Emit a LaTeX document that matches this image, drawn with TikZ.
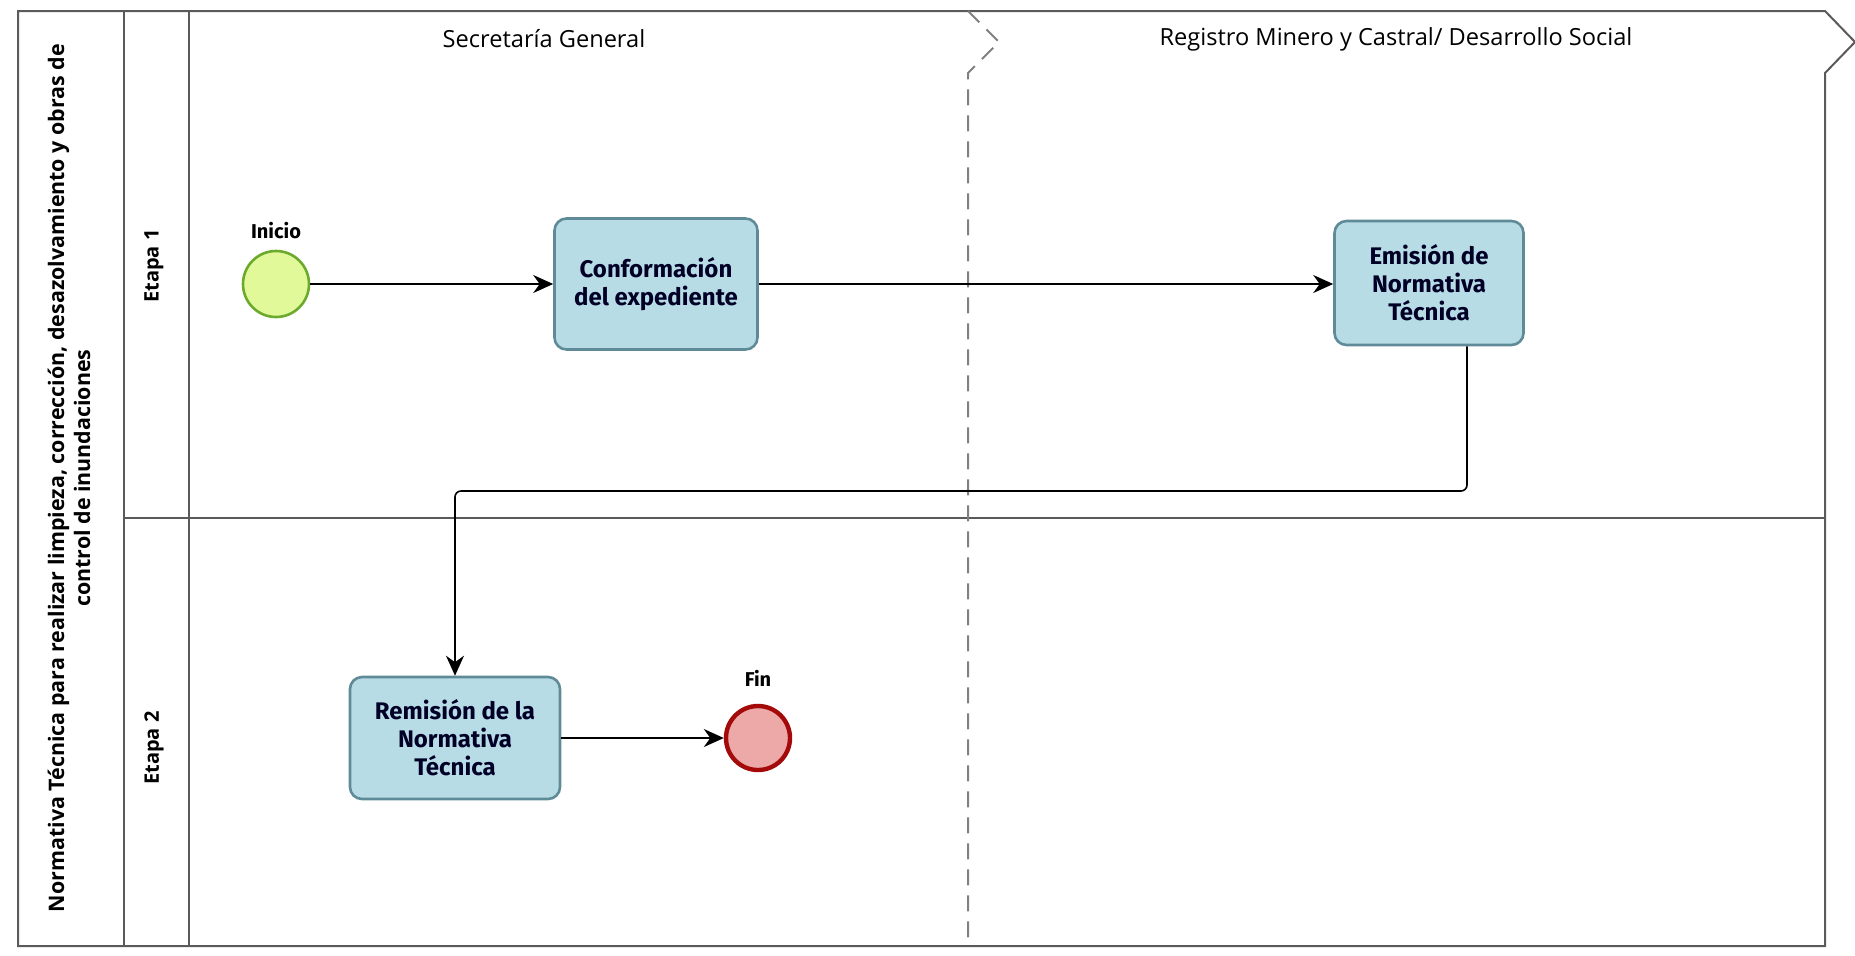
\documentclass[tikz,border=0pt]{standalone}
\usepackage{fontspec}
\setmainfont{Open Sans}
\newfontfamily\tareafont{Fira Sans}
\usepackage{xcolor}
\usetikzlibrary{positioning, calc, arrows.meta}

\definecolor{tareafill}{HTML}{B8DCE6}
\definecolor{tarealine}{HTML}{5F8A98}
\definecolor{iniciofill}{HTML}{E2F99A}
\definecolor{inicioline}{HTML}{6BAA2C}
\definecolor{finfill}{HTML}{EDA8A8}
\definecolor{finline}{HTML}{A50A0A}
\definecolor{carril}{HTML}{5A5A5A}

\begin{document}
\begin{tikzpicture}[x=0.5pt,y=-0.5pt,
        carrilline/.style={draw=carril, line width=1pt},
        cabecera/.style={font=\fontsize{11.8}{14}\selectfont, text=black},
        tarea/.style={rectangle, rounded corners=6pt, draw=tarealine, line width=1.3pt, fill=tareafill, align=center, font=\tareafont\large\bfseries, text=black!85!blue},
        inicioev/.style={circle, draw=inicioline, fill=iniciofill, line width=1.3pt, minimum size=33pt},
        finev/.style={circle, draw=finline, fill=finfill, line width=2.2pt, minimum size=32pt},
        evlabel/.style={font=\tareafont\bfseries},
        flujo/.style={-{Stealth[length=10pt,width=9pt]}, line width=0.8pt}]
        \useasboundingbox (0,0) rectangle (1855,955);
        % pool and lanes
        \draw[carrilline] (18,11) -- (1825,11) -- (1855,42) -- (1825,73) -- (1825,946) -- (18,946) -- cycle;
        \draw[carrilline] (124,11) -- (124,946);
        \draw[carrilline] (189,11) -- (189,946);
        \draw[carrilline] (124,518) -- (1825,518);
        \draw[carrilline, draw=gray, dashed, dash pattern=on 8pt off 5pt] (968,11) -- (999,42) -- (968,73) -- (968,946);
        % headers
        \node[font=\fontsize{10.7}{13}\selectfont\bfseries, rotate=90, align=center] (titulo) at (69,478) {Normativa Técnica para realizar limpieza, corrección, desazolvamiento y obras de\\control de inundaciones};
        \node[font=\bfseries, rotate=90] (etapa1) at (154,266) {Etapa 1};
        \node[font=\bfseries, rotate=90] (etapa2) at (154,748) {Etapa 2};
        \node[cabecera] (secretaria) at (544,39) {Secretaría General};
        \node[cabecera] (registro) at (1396,39) {Registro Minero y Castral/ Desarrollo Social};
        % events and tasks
        \node[inicioev] (inicio) at (276,284) {};
        \node[evlabel, above=2pt of inicio] (inicio-lbl) {Inicio};
        \node[tarea, minimum width=101.5pt, minimum height=65.5pt] (conformacion) at (656,284) {Conformación\\del expediente};
        \node[tarea, minimum width=94.5pt, minimum height=62pt] (emision) at (1429,283) {Emisión de\\Normativa\\Técnica};
        \node[tarea, minimum width=105pt, minimum height=61pt] (remision) at (455,738) {Remisión de la\\Normativa\\Técnica};
        \node[finev] (fin) at (758,738) {};
        \node[evlabel, above=5pt of fin] (fin-lbl) {Fin};
        \coordinate (pliegue) at (0,491);
        % flows
        \draw[flujo] (inicio) -- (conformacion);
        \draw[flujo] (conformacion) -- (emision.west |- conformacion);
        \draw[flujo, rounded corners=3pt] ([xshift=19pt]emision.south) |- (remision.north |- pliegue) -- (remision.north);
        \draw[flujo] (remision) -- (fin);
    \end{tikzpicture}
\end{document}
